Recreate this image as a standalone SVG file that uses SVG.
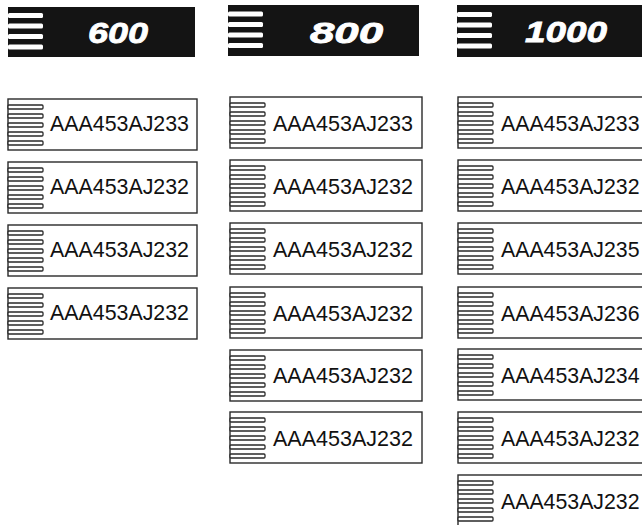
<svg xmlns="http://www.w3.org/2000/svg" xmlns:xlink="http://www.w3.org/1999/xlink" width="642" height="525" viewBox="0 0 642 525">
<style>
.bg{fill:#ffffff}
.hdr{fill:#141414}
.stripe{fill:#ffffff}
.htxt{font-family:"Liberation Sans",Arial,sans-serif;font-weight:bold;font-style:italic;font-size:29px;fill:#ffffff;stroke:#ffffff;stroke-width:0.8}
.box{fill:#ffffff;stroke:#2a2a2a;stroke-width:1.4}
.finger{fill:#ffffff;stroke:#2a2a2a;stroke-width:1.3}
.lbl{font-family:"Liberation Sans",Arial,sans-serif;font-size:22px;fill:#111111}
.lbl3{font-family:"Liberation Sans",Arial,sans-serif;font-size:21.3px;fill:#111111}
</style>
<defs>
<g id="stripes">
<rect class="stripe" x="0" y="6" width="35" height="5" rx="1.5"/>
<rect class="stripe" x="0" y="16.5" width="35" height="5" rx="1.5"/>
<rect class="stripe" x="0" y="27" width="35" height="5" rx="1.5"/>
<rect class="stripe" x="0" y="37.5" width="35" height="5" rx="1.5"/>
</g>
<g id="comb">
<rect class="finger" x="0" y="6" width="35" height="4" rx="1"/>
<rect class="finger" x="0" y="15" width="35" height="4" rx="1"/>
<rect class="finger" x="0" y="24" width="35" height="4" rx="1"/>
<rect class="finger" x="0" y="33" width="35" height="4" rx="1"/>
<rect class="finger" x="0" y="42" width="35" height="4" rx="1"/>
</g>
</defs>
<rect class="bg" x="0" y="0" width="642" height="525"/>

<!-- headers -->
<g id="h600">
<rect class="hdr" x="8" y="7" width="187" height="50"/>
<use xlink:href="#stripes" href="#stripes" x="8" y="7"/>
<text class="htxt" x="88" y="43" textLength="60" lengthAdjust="spacingAndGlyphs">600</text>
</g>
<g id="h800">
<rect class="hdr" x="228" y="5" width="191" height="51"/>
<use xlink:href="#stripes" href="#stripes" x="228" y="5.5"/>
<text class="htxt" x="310" y="43" textLength="73" lengthAdjust="spacingAndGlyphs">800</text>
</g>
<g id="h1000">
<rect class="hdr" x="457" y="5" width="200" height="52"/>
<use xlink:href="#stripes" href="#stripes" x="457" y="6"/>
<text class="htxt" x="525" y="42" textLength="82" lengthAdjust="spacingAndGlyphs">1000</text>
</g>

<!-- column 600 -->
<g id="c1n1"><rect class="box" x="8" y="99" width="189" height="51"/><use href="#comb" xlink:href="#comb" x="8" y="99"/><text class="lbl" x="50" y="131" textLength="139" lengthAdjust="spacingAndGlyphs">AAA453AJ233</text></g>
<g id="c1n2"><rect class="box" x="8" y="162" width="189" height="51"/><use href="#comb" xlink:href="#comb" x="8" y="162"/><text class="lbl" x="50" y="194" textLength="139" lengthAdjust="spacingAndGlyphs">AAA453AJ232</text></g>
<g id="c1n3"><rect class="box" x="8" y="225" width="189" height="51"/><use href="#comb" xlink:href="#comb" x="8" y="225"/><text class="lbl" x="50" y="257" textLength="139" lengthAdjust="spacingAndGlyphs">AAA453AJ232</text></g>
<g id="c1n4"><rect class="box" x="8" y="288" width="189" height="51"/><use href="#comb" xlink:href="#comb" x="8" y="288"/><text class="lbl" x="50" y="320" textLength="139" lengthAdjust="spacingAndGlyphs">AAA453AJ232</text></g>

<!-- column 800 -->
<g id="c2n1"><rect class="box" x="230" y="97" width="192" height="51"/><use href="#comb" xlink:href="#comb" x="230" y="97"/><text class="lbl" x="273" y="131" textLength="140" lengthAdjust="spacingAndGlyphs">AAA453AJ233</text></g>
<g id="c2n2"><rect class="box" x="230" y="160" width="192" height="51"/><use href="#comb" xlink:href="#comb" x="230" y="160"/><text class="lbl" x="273" y="194" textLength="140" lengthAdjust="spacingAndGlyphs">AAA453AJ232</text></g>
<g id="c2n3"><rect class="box" x="230" y="223" width="192" height="51"/><use href="#comb" xlink:href="#comb" x="230" y="223"/><text class="lbl" x="273" y="257" textLength="140" lengthAdjust="spacingAndGlyphs">AAA453AJ232</text></g>
<g id="c2n4"><rect class="box" x="230" y="287" width="192" height="51"/><use href="#comb" xlink:href="#comb" x="230" y="287"/><text class="lbl" x="273" y="321" textLength="140" lengthAdjust="spacingAndGlyphs">AAA453AJ232</text></g>
<g id="c2n5"><rect class="box" x="230" y="350" width="192" height="51"/><use href="#comb" xlink:href="#comb" x="230" y="350"/><text class="lbl" x="273" y="383" textLength="140" lengthAdjust="spacingAndGlyphs">AAA453AJ232</text></g>
<g id="c2n6"><rect class="box" x="230" y="412" width="192" height="51"/><use href="#comb" xlink:href="#comb" x="230" y="412"/><text class="lbl" x="273" y="446" textLength="140" lengthAdjust="spacingAndGlyphs">AAA453AJ232</text></g>

<!-- column 1000 -->
<g id="c3n1"><rect class="box" x="458" y="97" width="192" height="51"/><use href="#comb" xlink:href="#comb" x="458" y="97"/><text class="lbl3" x="501" y="131">AAA453AJ233</text></g>
<g id="c3n2"><rect class="box" x="458" y="160" width="192" height="51"/><use href="#comb" xlink:href="#comb" x="458" y="160"/><text class="lbl3" x="501" y="194">AAA453AJ232</text></g>
<g id="c3n3"><rect class="box" x="458" y="223" width="192" height="51"/><use href="#comb" xlink:href="#comb" x="458" y="223"/><text class="lbl3" x="501" y="257">AAA453AJ235</text></g>
<g id="c3n4"><rect class="box" x="458" y="287" width="192" height="51"/><use href="#comb" xlink:href="#comb" x="458" y="287"/><text class="lbl3" x="501" y="321">AAA453AJ236</text></g>
<g id="c3n5"><rect class="box" x="458" y="349" width="192" height="51"/><use href="#comb" xlink:href="#comb" x="458" y="349"/><text class="lbl3" x="501" y="383">AAA453AJ234</text></g>
<g id="c3n6"><rect class="box" x="458" y="412" width="192" height="51"/><use href="#comb" xlink:href="#comb" x="458" y="412"/><text class="lbl3" x="501" y="446">AAA453AJ232</text></g>
<g id="c3n7"><rect class="box" x="458" y="475" width="192" height="51"/><use href="#comb" xlink:href="#comb" x="458" y="475"/><text class="lbl3" x="501" y="509">AAA453AJ232</text></g>
</svg>
